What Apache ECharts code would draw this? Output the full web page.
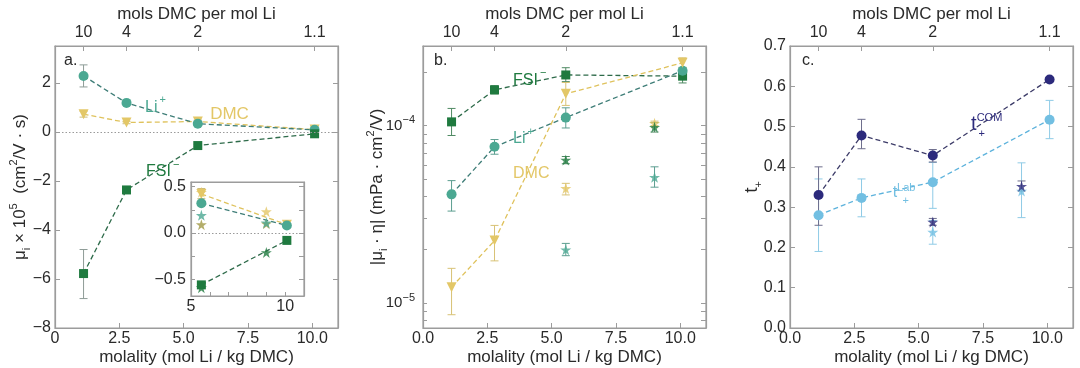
<!DOCTYPE html>
<html><head><meta charset="utf-8">
<script src="https://cdn.jsdelivr.net/npm/echarts@6/dist/echarts.min.js"></script>
<style>html,body{margin:0;padding:0;background:#fff}#c{width:1080px;height:368px}</style>
</head><body><div id="c"></div><script>
// ---------- data ----------
const molality = [1.11, 2.78, 5.55, 10.09];
const topTickLabels = ['10', '4', '2', '1.1'];
const xTicks = [0, 2.5, 5, 7.5, 10];
const starX = [5.55, 9.0];

// panel a (mu_i x 1e5)
const aLi = [2.28, 1.18, 0.33, 0.08];
const aLiLo = [1.83, 1.12, 0.29, 0.06];
const aLiHi = [2.73, 1.24, 0.37, 0.10];
const aDMC = [0.72, 0.38, 0.42, 0.09];
const aDMCLo = [0.60, 0.33, 0.36, 0.07];
const aDMCHi = [0.84, 0.43, 0.48, 0.11];
const aFSI = [-5.78, -2.37, -0.56, -0.08];
const aFSILo = [-6.80, -2.43, -0.61, -0.10];
const aFSIHi = [-4.80, -2.31, -0.51, -0.06];
const aYLabels = [-8, -6, -4, -2, 0, 2];

// inset
const inX = [5.55, 10.09];
const inLi = [0.32, 0.08];
const inDMC = [0.42, 0.09];
const inDMCLo = [0.37, 0.08];
const inDMCHi = [0.48, 0.10];
const inFSI = [-0.56, -0.08];
const inStarDMC = [0.44, 0.23];
const inStarLi = [0.19, 0.11];
const inStarOlive = [0.09, 0.10];
const inStarFSI = [-0.59, -0.21];

// panel b |mu_i * eta|
const bFSI = [1.05e-4, 1.59e-4, 1.93e-4, 1.90e-4];
const bFSILo = [0.88e-4, 1.51e-4, 1.77e-4, 1.74e-4];
const bFSIHi = [1.25e-4, 1.68e-4, 2.12e-4, 2.02e-4];
const bLi = [4.1e-5, 7.6e-5, 1.11e-4, 2.04e-4];
const bLiLo = [3.3e-5, 6.9e-5, 0.97e-4, 1.95e-4];
const bLiHi = [4.9e-5, 8.35e-5, 1.26e-4, 2.13e-4];
const bDMC = [1.23e-5, 2.25e-5, 1.51e-4, 2.26e-4];
const bDMCLo = [0.86e-5, 1.73e-5, 1.30e-4, 2.12e-4];
const bDMCHi = [1.57e-5, 2.74e-5, 1.75e-4, 2.41e-4];
const bStarDMC = [4.43e-5, 1.03e-4];
const bStarDMCLo = [4.07e-5, 1.0e-4];
const bStarDMCHi = [4.73e-5, 1.06e-4];
const bStarFSI = [6.4e-5, 9.8e-5];
const bStarFSILo = [6.1e-5, 9.2e-5];
const bStarFSIHi = [6.7e-5, 1.04e-4];
const bStarLi = [2.0e-5, 5.12e-5];
const bStarLiLo = [1.85e-5, 4.5e-5];
const bStarLiHi = [2.17e-5, 5.86e-5];
const bYLabels = [1e-5, 1e-4];
const bYTicks = [8e-6, 9e-6, 1e-5, 2e-5, 3e-5, 4e-5, 5e-5, 6e-5, 7e-5, 8e-5, 9e-5, 1e-4, 2e-4];

// panel c t+
const cCOM = [0.33, 0.478, 0.428, 0.617];
const cCOMLo = [0.255, 0.445, 0.412, 0.617];
const cCOMHi = [0.40, 0.518, 0.443, 0.617];
const cLab = [0.28, 0.323, 0.362, 0.517];
const cLabLo = [0.19, 0.276, 0.297, 0.47];
const cLabHi = [0.37, 0.37, 0.411, 0.565];
const cStarCOM = [0.263, 0.352];
const cStarCOMLo = [0.255, 0.34];
const cStarCOMHi = [0.272, 0.365];
const cStarLab = [0.238, 0.34];
const cStarLabLo = [0.208, 0.274];
const cStarLabHi = [0.267, 0.41];
const cYLabels = [0, 0.1, 0.2, 0.3, 0.4, 0.5, 0.6, 0.7];

// ---------- styles ----------
const FONT = '"Liberation Sans", Arial, sans-serif';
const TXT = '#2a2a2a';
const AX = '#9c9c9c';
const kFSI = '#1f7a3f', lFSI = '#2e6b4a';
const kLi = '#4ba892', lLi = '#3e7d77';
const kDMC = '#e3c767', lDMC = '#dfc25c';
const kOlive = '#a09845';
const kNavy = '#2c2a7c', lNavy = '#3c3b68';
const kLab = '#72bfe2', lLab = '#5cb2dc';
const errGrey = '#8e9c97';
const STAR = 'path://M50,0 L61.2,34.5 L97.6,34.5 L68.2,55.9 L79.4,90.5 L50,69.1 L20.6,90.5 L31.8,55.9 L2.4,34.5 L38.8,34.5 Z';

const pair = (xs, ys) => xs.map((x, i) => [x, ys[i]]);
const minus = v => String(v).replace('-', '\u2212');

function errSeries(xi, yi, xs, lo, hi, color) {
  return {
    type: 'custom', xAxisIndex: xi, yAxisIndex: yi, silent: true, z: 1,
    encode: { x: 0, y: [1, 2] },
    data: xs.map((x, i) => [x, lo[i], hi[i]]),
    renderItem: (params, api) => {
      const x = api.value(0);
      const p1 = api.coord([x, api.value(1)]);
      const p2 = api.coord([x, api.value(2)]);
      const w = 4;
      const st = { stroke: color, lineWidth: 1 };
      return { type: 'group', children: [
        { type: 'line', shape: { x1: p1[0], y1: p1[1], x2: p2[0], y2: p2[1] }, style: st },
        { type: 'line', shape: { x1: p1[0] - w, y1: p1[1], x2: p1[0] + w, y2: p1[1] }, style: st },
        { type: 'line', shape: { x1: p2[0] - w, y1: p2[1], x2: p2[0] + w, y2: p2[1] }, style: st }
      ]};
    }
  };
}
function lineSeries(xi, yi, xs, ys, color, lcolor, symbol, size, rot, extra) {
  return Object.assign({
    type: 'line', xAxisIndex: xi, yAxisIndex: yi, data: pair(xs, ys),
    symbol, symbolSize: size, symbolRotate: rot || 0, showSymbol: true, z: 3,
    itemStyle: { color }, lineStyle: { color: lcolor, width: 1.3, type: [5, 3] }
  }, extra || {});
}
function starSeries(xi, yi, ys, color, size) {
  return { type: 'scatter', xAxisIndex: xi, yAxisIndex: yi, data: pair(starX, ys),
    symbol: STAR, symbolSize: size || 11, itemStyle: { color }, z: 4 };
}
function note(coord, text, color, fs) {
  fs = fs || 16;
  return { coord, symbol: 'circle', symbolSize: 1, itemStyle: { color: 'rgba(0,0,0,0)' },
    label: { show: true, position: 'inside', align: 'left', verticalAlign: 'middle', formatter: text,
      rich: {
        n: { fontSize: fs, lineHeight: 26, color, fontFamily: FONT },
        s: { fontSize: 11, lineHeight: 11, verticalAlign: 'top', color, fontFamily: FONT, padding: [0, 0, 0, 2] },
        t: { fontSize: 20, lineHeight: 24, color, fontFamily: FONT },
        tl: { fontSize: 16, lineHeight: 20, color, fontFamily: FONT },
        c: { fontSize: 11, lineHeight: 11, verticalAlign: 'top', color, fontFamily: FONT },
        p: { fontSize: 11, lineHeight: 11, color, fontFamily: FONT }
      } } };
}
function markNotes(items) { return { silent: true, animation: false, data: items }; }
const zeroLine = { silent: true, symbol: 'none', animation: false, label: { show: false },
  lineStyle: { color: '#9a9a9a', type: [1.5, 2], width: 1 }, data: [{ yAxis: 0 }] };

const axLine = { show: true, onZero: false, lineStyle: { color: AX, width: 1.2 } };
const lbl = (extra) => Object.assign({ color: TXT, fontSize: 16, fontFamily: FONT }, extra);
const nameStyle = { color: TXT, fontSize: 17, fontFamily: FONT };

function bottomX(grid, first) {
  return { type: 'value', gridIndex: grid, position: 'bottom', min: 0, max: 11,
    axisLine: axLine,
    axisTick: { show: true, inside: true, length: 5, customValues: xTicks, lineStyle: { color: AX } },
    axisLabel: lbl({ customValues: xTicks, margin: 3,
      formatter: v => (first && v === 0) ? '0' : Number(v).toFixed(1) }),
    splitLine: { show: false }, nameMoveOverlap: false,
    name: 'molality (mol Li / kg DMC)', nameLocation: 'middle', nameGap: 21, nameTextStyle: nameStyle };
}
function topX(grid) {
  return { type: 'value', gridIndex: grid, position: 'top', min: 0, max: 11,
    axisLine: axLine,
    axisTick: { show: true, inside: true, length: 5, customValues: molality, lineStyle: { color: AX } },
    axisLabel: lbl({ customValues: molality, margin: 5,
      formatter: v => { const i = molality.findIndex(m => Math.abs(m - v) < 1e-6); return i >= 0 ? topTickLabels[i] : ''; } }),
    splitLine: { show: false }, nameMoveOverlap: false,
    name: 'mols DMC per mol Li', nameLocation: 'middle', nameGap: 23, nameTextStyle: nameStyle };
}
function mirrorY(grid, type, min, max, ticks) {
  return { type, gridIndex: grid, position: 'right', min, max,
    axisLine: axLine, axisLabel: { show: false }, splitLine: { show: false },
    axisTick: { show: true, inside: true, length: 5, customValues: ticks, lineStyle: { color: AX } } };
}

const ynameRich = {
  n: { fontSize: 17, color: TXT, fontFamily: FONT, lineHeight: 24 },
  sub: { fontSize: 11, color: TXT, fontFamily: FONT, verticalAlign: 'bottom', lineHeight: 11 },
  sup: { fontSize: 11, color: TXT, fontFamily: FONT, verticalAlign: 'top', lineHeight: 11 }
};
const gridBase = { containLabel: false, outerBoundsMode: 'none', show: true, borderColor: AX, borderWidth: 1.2, backgroundColor: 'transparent' };

const option = {
  animation: false,
  backgroundColor: '#fff',
  textStyle: { fontFamily: FONT },
  grid: [
    Object.assign({ left: 55, top: 46, width: 283, height: 282 }, gridBase),
    Object.assign({ left: 423, top: 46, width: 283, height: 282 }, gridBase),
    Object.assign({ left: 790, top: 46, width: 283, height: 282 }, gridBase),
    Object.assign({}, gridBase, { left: 191, top: 182, width: 113, height: 114, backgroundColor: '#fff' })
  ],
  xAxis: [
    bottomX(0, true), topX(0),
    bottomX(1, false), topX(1),
    bottomX(2, false), topX(2),
    { type: 'value', gridIndex: 3, position: 'bottom', min: 5, max: 11,
      axisLine: axLine, splitLine: { show: false },
      axisTick: { show: true, inside: true, length: 4, customValues: [5, 6, 7, 8, 9, 10], lineStyle: { color: AX } },
      axisLabel: lbl({ customValues: [5, 10], margin: 3, formatter: v => String(v) }) },
    { type: 'value', gridIndex: 3, position: 'top', min: 5, max: 11,
      axisLine: axLine, splitLine: { show: false }, axisLabel: { show: false },
      axisTick: { show: false } }
  ],
  yAxis: [
    { type: 'value', gridIndex: 0, position: 'left', min: -8, max: 3.5,
      axisLine: axLine, splitLine: { show: false },
      axisTick: { show: true, inside: true, length: 5, customValues: aYLabels, lineStyle: { color: AX } },
      axisLabel: lbl({ customValues: aYLabels, margin: 4, formatter: v => minus(v) }),
      name: '{n|μ}{sub|i}{n| × 10}{sup|5}{n|  (cm}{sup|2}{n|/V · s)}', nameLocation: 'middle', nameGap: 23,
      nameMoveOverlap: false, nameTextStyle: { rich: ynameRich } },
    mirrorY(0, 'value', -8, 3.5, aYLabels),
    { type: 'log', gridIndex: 1, position: 'left', min: 7.24e-6, max: 2.81e-4, logBase: 10,
      axisLine: axLine, splitLine: { show: false }, minorTick: { show: false },
      axisTick: { show: true, inside: true, length: 4, customValues: bYTicks, lineStyle: { color: AX } },
      axisLabel: lbl({ customValues: bYLabels, margin: 8, fontSize: 15, lineHeight: 22,
        formatter: v => (v < 5e-5 ? '10{e|−5}' : '10{e|−4}'),
        rich: { e: { fontSize: 11, color: TXT, fontFamily: FONT, verticalAlign: 'top', lineHeight: 11 } } }),
      name: '{n||μ}{sub|i}{n| · η| (mPa · cm}{sup|2}{n|/V)}', nameLocation: 'middle', nameGap: 34,
      nameMoveOverlap: false, nameTextStyle: { rich: ynameRich } },
    mirrorY(1, 'log', 7.24e-6, 2.81e-4, bYTicks),
    { type: 'value', gridIndex: 2, position: 'left', min: 0, max: 0.7,
      axisLine: axLine, splitLine: { show: false },
      axisTick: { show: true, inside: true, length: 5, customValues: cYLabels, lineStyle: { color: AX } },
      axisLabel: lbl({ customValues: cYLabels, margin: 4, formatter: v => Number(v).toFixed(1) }),
      name: '{n|t}{sub|+}', nameLocation: 'middle', nameGap: 26, nameMoveOverlap: false,
      nameTextStyle: { rich: { n: { fontSize: 19, color: TXT, fontFamily: FONT, lineHeight: 24 },
        sub: { fontSize: 11, color: TXT, fontFamily: FONT, verticalAlign: 'bottom', lineHeight: 11 } } } },
    mirrorY(2, 'value', 0, 0.7, cYLabels),
    { type: 'value', gridIndex: 3, position: 'left', min: -0.68, max: 0.55,
      axisLine: axLine, splitLine: { show: false },
      axisTick: { show: true, inside: true, length: 4, customValues: [-0.5, -0.25, 0, 0.25, 0.5], lineStyle: { color: AX } },
      axisLabel: lbl({ customValues: [-0.5, 0, 0.5], margin: 5, formatter: v => minus(Number(v).toFixed(1)) }) },
    mirrorY(3, 'value', -0.68, 0.55, [-0.5, -0.25, 0, 0.25, 0.5])
  ],
  series: [
    // ---- panel a ----
    errSeries(0, 0, molality, aLiLo, aLiHi, errGrey),
    errSeries(0, 0, molality, aDMCLo, aDMCHi, '#cdbd7a'),
    errSeries(0, 0, molality, aFSILo, aFSIHi, errGrey),
    lineSeries(0, 0, molality, aDMC, kDMC, lDMC, 'triangle', 10, 180, {
      markLine: zeroLine,
      markPoint: markNotes([note([6.03, 0.70], '{n|DMC}', kDMC, 17)]) }),
    lineSeries(0, 0, molality, aLi, kLi, lLi, 'circle', 10, 0, {
      markPoint: markNotes([note([3.5, 0.98], '{n|Li}{s|+}', kLi)]) }),
    lineSeries(0, 0, molality, aFSI, kFSI, lFSI, 'rect', 9, 0, {
      markPoint: markNotes([note([3.54, -1.64], '{n|FSI}{s|−}', kFSI)]) }),
    // ---- inset ----
    errSeries(6, 6, inX, inDMCLo, inDMCHi, '#cdbd7a'),
    lineSeries(6, 6, inX, inDMC, kDMC, lDMC, 'triangle', 10, 180, { markLine: zeroLine }),
    lineSeries(6, 6, inX, inLi, kLi, lLi, 'circle', 10, 0),
    lineSeries(6, 6, inX, inFSI, kFSI, lFSI, 'rect', 9, 0),
    starSeries(6, 6, inStarOlive, kOlive),
    starSeries(6, 6, inStarLi, kLi),
    starSeries(6, 6, inStarDMC, kDMC),
    starSeries(6, 6, inStarFSI, kFSI),
    // ---- panel b ----
    errSeries(2, 2, molality, bFSILo, bFSIHi, '#4f8a63'),
    errSeries(2, 2, molality, bLiLo, bLiHi, '#5c9e90'),
    errSeries(2, 2, molality, bDMCLo, bDMCHi, '#d8c275'),
    errSeries(2, 2, starX, bStarDMCLo, bStarDMCHi, '#d8c275'),
    errSeries(2, 2, starX, bStarFSILo, bStarFSIHi, '#4f8a63'),
    errSeries(2, 2, starX, bStarLiLo, bStarLiHi, '#5c9e90'),
    lineSeries(2, 2, molality, bFSI, kFSI, lFSI, 'rect', 9, 0, {
      markPoint: markNotes([note([3.5, 1.8e-4], '{n|FSI}{s|−}', kFSI)]) }),
    lineSeries(2, 2, molality, bLi, kLi, lLi, 'circle', 10, 0, {
      markPoint: markNotes([note([3.5, 8.4e-5], '{n|Li}{s|+}', kLi)]) }),
    lineSeries(2, 2, molality, bDMC, kDMC, lDMC, 'triangle', 10, 180, {
      markPoint: markNotes([note([3.5, 5.4e-5], '{n|DMC}', kDMC)]) }),
    starSeries(2, 2, bStarDMC, kDMC),
    starSeries(2, 2, bStarFSI, kFSI),
    starSeries(2, 2, bStarLi, kLi),
    // ---- panel c ----
    errSeries(4, 4, molality, cLabLo, cLabHi, '#8fcbe6'),
    errSeries(4, 4, molality, cCOMLo, cCOMHi, '#6d6d8c'),
    errSeries(4, 4, starX, cStarLabLo, cStarLabHi, '#8fcbe6'),
    errSeries(4, 4, starX, cStarCOMLo, cStarCOMHi, '#6d6d8c'),
    lineSeries(4, 4, molality, cLab, kLab, lLab, 'circle', 10, 0, {
      markPoint: markNotes([
        note([3.99, 0.337], '{tl|t}{c|Lab}', kLab),
        note([4.37, 0.315], '{p|+}', kLab) ]) }),
    lineSeries(4, 4, molality, cCOM, kNavy, lNavy, 'circle', 10, 0, {
      markPoint: markNotes([
        note([7.04, 0.506], '{t|t}{c|COM}', kNavy),
        note([7.33, 0.482], '{p|+}', kNavy) ]) }),
    starSeries(4, 4, cStarLab, kLab),
    starSeries(4, 4, cStarCOM, kNavy)
  ],
  graphic: [
    { type: 'text', left: 64, top: 53, style: { text: 'a.', fontSize: 16, fontFamily: FONT, fill: TXT } },
    { type: 'text', left: 434, top: 53, style: { text: 'b.', fontSize: 16, fontFamily: FONT, fill: TXT } },
    { type: 'text', left: 802, top: 53, style: { text: 'c.', fontSize: 16, fontFamily: FONT, fill: TXT } }
  ]
};
const chart = echarts.init(document.getElementById('c'), null, { renderer: 'canvas' });
chart.setOption(option);
</script></body></html>
